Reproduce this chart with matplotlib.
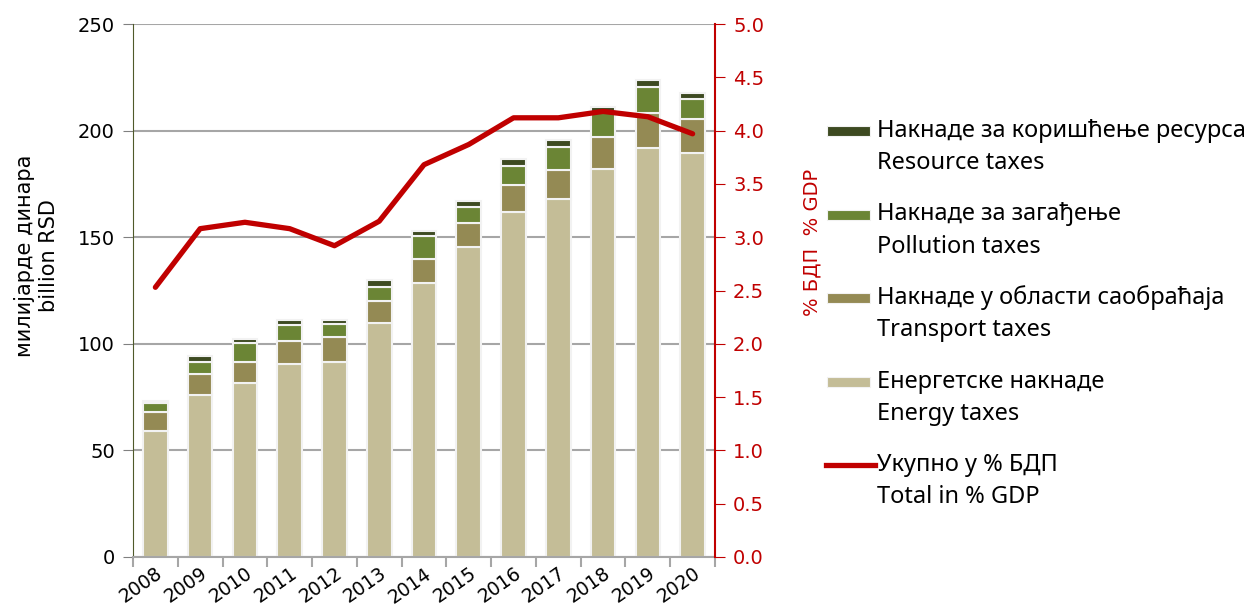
import numpy as np
import matplotlib.pyplot as plt
import matplotlib.transforms as mtransforms
from matplotlib.patches import Rectangle
from matplotlib.lines import Line2D

plt.rcParams["font.family"] = ["DejaVu Sans"]

years = ["2008", "2009", "2010", "2011", "2012", "2013", "2014",
         "2015", "2016", "2017", "2018", "2019", "2020"]

# billion RSD, stacked from bottom
energy = [59.2, 76.0, 81.5, 90.4, 91.6, 109.9, 128.7, 145.3, 162.0, 167.9, 182.0, 192.0, 189.3]
transport = [9.0, 9.8, 10.1, 10.9, 11.7, 10.3, 11.1, 11.5, 12.5, 13.6, 15.1, 16.4, 16.1]
pollution = [4.2, 5.8, 8.6, 7.5, 6.0, 6.6, 10.8, 7.2, 9.1, 11.0, 11.8, 12.2, 9.4]
resource = [0.9, 2.7, 1.9, 2.4, 1.9, 3.1, 2.3, 3.1, 3.1, 3.1, 2.3, 3.1, 3.0]

# total in % GDP
total_gdp = [2.53, 3.08, 3.14, 3.08, 2.92, 3.15, 3.68, 3.87, 4.12, 4.12, 4.18, 4.13, 3.97]

series = [
    ("Енергетске накнаде", "Energy taxes", energy, "#c4bd97"),
    ("Накнаде у области саобраћаја", "Transport taxes", transport, "#948a54"),
    ("Накнаде за загађење", "Pollution taxes", pollution, "#6b8535"),
    ("Накнаде за коришћење ресурса", "Resource taxes", resource, "#3d4a21"),
]
red = "#c00000"

fig = plt.figure(figsize=(12.58, 6.06), dpi=100)
ax = fig.add_axes([133 / 1258, 49 / 606, 582 / 1258, 533 / 606])

x = np.arange(len(years))
bottom = np.zeros(len(years))
for name, name_en, vals, col in series:
    ax.bar(x, vals, bottom=bottom, width=0.55, color=col,
           edgecolor="#f2f2f2", linewidth=1.5, zorder=2)
    bottom += np.array(vals)

ax.set_xlim(-0.5, len(years) - 0.5)
ax.set_ylim(0, 250)
ax.set_yticks(np.arange(0, 251, 50))
ax.yaxis.grid(True, color="#a6a6a6", linewidth=1.5)
ax.set_axisbelow(True)
ax.tick_params(axis="y", labelsize=14, length=7, color="#808080", pad=6)
ax.set_xticks(x)
ax.set_xticklabels(years, rotation=35, ha="right", rotation_mode="anchor", fontsize=13.5)
shift = mtransforms.ScaledTranslation(-5 / 100, 0, fig.dpi_scale_trans)
for lab in ax.get_xticklabels():
    lab.set_transform(lab.get_transform() + shift)
ax.set_xticks(np.arange(-0.5, len(years), 1), minor=True)
ax.tick_params(axis="x", which="major", length=0, pad=5)
ax.tick_params(axis="x", which="minor", length=7, color="#a6a6a6", width=1.5)
ax.spines["top"].set_visible(False)
ax.spines["right"].set_visible(False)
ax.spines["left"].set_color("#4f5a2a")
ax.spines["bottom"].set_color("#a6a6a6")
ax.spines["bottom"].set_linewidth(1.5)
ax.set_ylabel("милијарде динара\nbillion RSD", fontsize=15)
ax.yaxis.set_label_coords(-0.128, 0.565)

ax2 = ax.twinx()
ax2.plot(x, total_gdp, color=red, linewidth=3.8, solid_capstyle="round",
         solid_joinstyle="round", zorder=5)
ax2.set_ylim(0, 5)
ax2.set_yticks(np.arange(0, 5.01, 0.5))
ax2.set_yticklabels([f"{v:.1f}" for v in np.arange(0, 5.01, 0.5)])
ax2.tick_params(axis="y", colors=red, labelsize=14, length=7, pad=6)
for s in ["top", "left", "bottom"]:
    ax2.spines[s].set_visible(False)
ax2.spines["right"].set_color(red)
ax2.spines["right"].set_linewidth(1.5)
ax2.set_ylabel("% БДП  % GDP", color=red, fontsize=14)
ax2.yaxis.set_label_coords(1.15, 0.59)

# legend, drawn by hand so the key lines up with the first text line
W, H = 1258, 606
leg_font = ["Noto Sans", "DejaVu Sans"]
leg_size = 17
entries = [(s[0], s[1], s[3]) for s in reversed(series)]
y0, step = 131, 83.5
for i, (ru, en, col) in enumerate(entries):
    yc = y0 + i * step
    fig.patches.append(Rectangle((827 / W, 1 - (yc + 5) / H), 43 / W, 10 / H,
                                 transform=fig.transFigure, facecolor=col,
                                 edgecolor="#f2f2f2", linewidth=0.8))
    fig.text(877 / W, 1 - yc / H, ru, fontsize=leg_size, va="center", family=leg_font)
    fig.text(877 / W, 1 - (yc + 32) / H, en, fontsize=leg_size, va="center", family=leg_font)
yc = y0 + len(entries) * step
fig.lines.append(Line2D([826 / W, 875 / W], [1 - yc / H, 1 - yc / H],
                        transform=fig.transFigure, color=red, linewidth=3.8))
fig.text(877 / W, 1 - yc / H, "Укупно у % БДП", fontsize=leg_size, va="center", family=leg_font)
fig.text(877 / W, 1 - (yc + 32) / H, "Total in % GDP", fontsize=leg_size, va="center", family=leg_font)

fig.savefig("out.png", dpi=100)
